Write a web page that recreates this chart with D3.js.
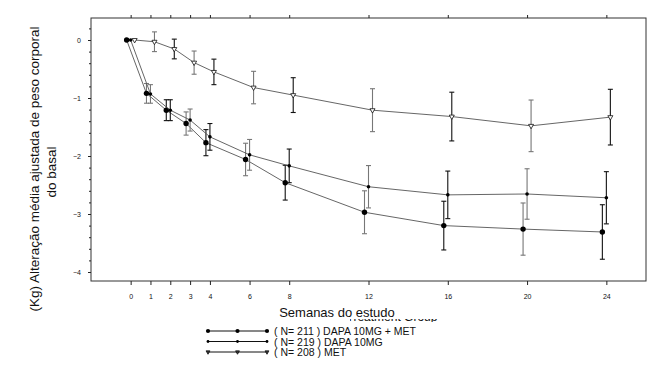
<!DOCTYPE html>
<html>
<head>
<meta charset="utf-8">
<script src="https://cdn.jsdelivr.net/npm/d3@7"></script>
<style>
  body { margin: 0; background: #fff; }
  svg { display: block; font-family: "Liberation Sans", Arial, sans-serif; }
  .axis path { display: none; }
  .axis line { stroke: #222; }
  .axis text { font-size: 7px; fill: #111; }
</style>
</head>
<body>
<div id="chart"></div>
<script>
const width = 672;
const height = 380;

// weeks of study
const weeks = [0, 1, 2, 3, 4, 6, 8, 12, 16, 20, 24];
const weekTicks = [0, 1, 2, 3, 4, 6, 8, 12, 16, 20, 24];
const yTicks = [0, -1, -2, -3, -4];

// mean change from baseline (kg) and error half-width
const dapaMetMean = [0, -0.92, -1.21, -1.44, -1.77, -2.06, -2.46, -2.97, -3.20, -3.26, -3.31];
const dapaMetErr  = [0, 0.17, 0.18, 0.20, 0.225, 0.28, 0.30, 0.37, 0.42, 0.45, 0.47];
const dapaMean = [0, -0.93, -1.21, -1.38, -1.67, -1.98, -2.17, -2.53, -2.67, -2.655, -2.72];
const dapaErr  = [0, 0.16, 0.18, 0.19, 0.23, 0.265, 0.29, 0.365, 0.41, 0.435, 0.45];
const metMean = [0, -0.03, -0.155, -0.39, -0.55, -0.82, -0.95, -1.21, -1.32, -1.48, -1.33];
const metErr  = [0, 0.17, 0.17, 0.20, 0.22, 0.28, 0.30, 0.37, 0.42, 0.445, 0.48];

const seriesNames = ['( N= 211 ) DAPA 10MG + MET', '( N= 219 ) DAPA 10MG', '( N= 208 ) MET'];

const series = [
  { name: seriesNames[0], mean: dapaMetMean, err: dapaMetErr, marker: 'big', dx: -4 },
  { name: seriesNames[1], mean: dapaMean, err: dapaErr, marker: 'small', dx: 0 },
  { name: seriesNames[2], mean: metMean, err: metErr, marker: 'tri', dx: 4 }
];

const frame = { left: 91, top: 18, right: 646, bottom: 281 };

const x = d3.scaleLinear().domain([-2, 26]).range([frame.left, frame.right]);
const y = d3.scaleLinear().domain([0, -4]).range([40, 272]);

const svg = d3.select('#chart').append('svg')
  .attr('width', width)
  .attr('height', height);

// frame
svg.append('rect')
  .attr('x', frame.left).attr('y', frame.top)
  .attr('width', frame.right - frame.left)
  .attr('height', frame.bottom - frame.top)
  .attr('fill', 'none')
  .attr('stroke', '#333')
  .attr('stroke-width', 1);

// axes
svg.append('g')
  .attr('class', 'axis')
  .attr('transform', `translate(${frame.left},0)`)
  .call(d3.axisLeft(y).tickValues(yTicks).tickSize(3).tickPadding(7).tickFormat(d3.format('d')));

// minor ticks every 0.2
svg.append('g')
  .attr('class', 'axis')
  .attr('transform', `translate(${frame.left},0)`)
  .call(d3.axisLeft(y).tickValues(d3.range(0, 22).map(i => 0.2 - i * 0.2).filter(v => Math.abs(v - Math.round(v)) > 0.01)).tickSize(2).tickFormat(''));

svg.append('g')
  .attr('class', 'axis')
  .attr('transform', `translate(0,${frame.bottom})`)
  .call(d3.axisBottom(x).tickValues(weekTicks).tickSize(4).tickPadding(9).tickFormat(d3.format('d')));

svg.append('g')
  .attr('class', 'axis')
  .attr('transform', `translate(0,${frame.top})`)
  .call(d3.axisTop(x).tickValues(weekTicks).tickSize(3).tickFormat(''));

// series
const line = d3.line();

series.forEach(s => {
  const pts = weeks.map((w, i) => [x(w) + s.dx, y(s.mean[i]), s.err[i], s.mean[i]]);
  const g = svg.append('g');

  g.append('path')
    .attr('d', line(pts.map(p => [p[0], p[1]])))
    .attr('fill', 'none')
    .attr('stroke', '#555')
    .attr('stroke-width', 0.9);

  const bars = g.selectAll('.err')
    .data(pts.filter(p => p[2] > 0))
    .enter().append('g')
      .attr('stroke', (d, i) => i % 2 ? '#111' : '#777')
      .attr('stroke-width', 1.1);
  bars.append('line')
    .attr('x1', d => d[0]).attr('x2', d => d[0])
    .attr('y1', d => y(d[3] + d[2])).attr('y2', d => y(d[3] - d[2]));
  bars.append('line')
    .attr('x1', d => d[0] - 2.5).attr('x2', d => d[0] + 2.5)
    .attr('y1', d => y(d[3] + d[2])).attr('y2', d => y(d[3] + d[2]));
  bars.append('line')
    .attr('x1', d => d[0] - 2.5).attr('x2', d => d[0] + 2.5)
    .attr('y1', d => y(d[3] - d[2])).attr('y2', d => y(d[3] - d[2]));

  drawMarkers(g, pts, s.marker, 1);
});

function drawMarkers(g, pts, marker, k) {
  if (marker === 'tri') {
    g.selectAll('.mk')
      .data(pts)
      .enter().append('path')
        .attr('d', d3.symbol().type(d3.symbolTriangle).size(11 * k))
        .attr('transform', d => `translate(${d[0]},${d[1]}) rotate(180)`)
        .attr('fill', k < 1 ? '#333' : '#fff')
        .attr('stroke', '#111')
        .attr('stroke-width', 0.8);
  } else {
    g.selectAll('.mk')
      .data(pts)
      .enter().append('circle')
        .attr('cx', d => d[0])
        .attr('cy', d => d[1])
        .attr('r', (marker === 'big' ? 2.7 : 1.8) * Math.sqrt(k))
        .attr('fill', '#000');
  }
}

// axis titles
svg.append('text')
  .attr('transform', 'translate(39,169) rotate(-90)')
  .attr('text-anchor', 'middle')
  .attr('font-size', 13.5)
  .attr('fill', '#111')
  .text('(Kg) Alteração média ajustada de peso corporal');
svg.append('text')
  .attr('transform', 'translate(56,172) rotate(-90)')
  .attr('text-anchor', 'middle')
  .attr('font-size', 13.5)
  .attr('fill', '#111')
  .text('do basal');

// hidden group title peeking under the x title
svg.append('clipPath').attr('id', 'peek')
  .append('rect').attr('x', 350).attr('y', 319).attr('width', 90).attr('height', 3);
svg.append('text')
  .attr('clip-path', 'url(#peek)')
  .attr('x', 392).attr('y', 321)
  .attr('text-anchor', 'middle')
  .attr('font-size', 12)
  .attr('fill', '#111')
  .text('Treatment Group');

svg.append('text')
  .attr('x', 337).attr('y', 317)
  .attr('text-anchor', 'middle')
  .attr('font-size', 13)
  .attr('fill', '#111')
  .text('Semanas do estudo');

// legend
const legend = svg.append('g');
const legendRows = legend.selectAll('g')
  .data(series)
  .enter().append('g')
    .attr('transform', (d, i) => `translate(0,${331 + i * 10.5})`);
legendRows.append('line')
  .attr('x1', 208).attr('x2', 267)
  .attr('stroke', '#111').attr('stroke-width', 1);
legendRows.each(function(s) {
  drawMarkers(d3.select(this), [[208, 0], [237.5, 0], [267, 0]], s.marker, 0.6);
});
legendRows.append('text')
  .attr('x', 274).attr('y', 4)
  .attr('font-size', 10.5)
  .attr('fill', '#111')
  .text(d => d.name);
</script>
</body>
</html>
